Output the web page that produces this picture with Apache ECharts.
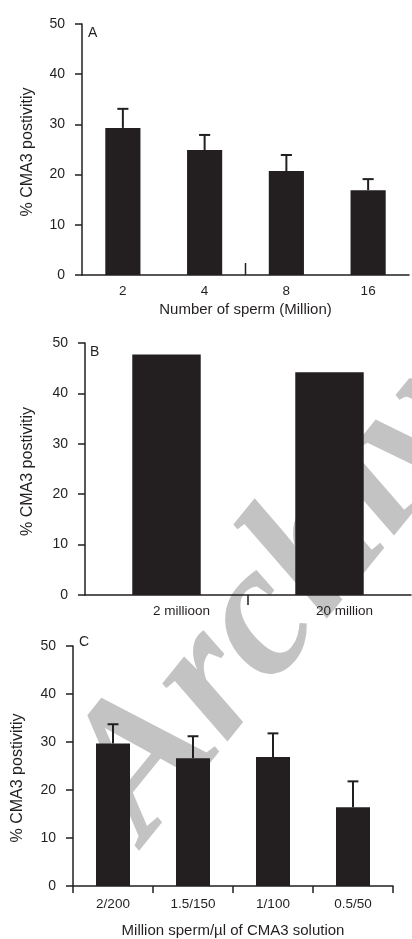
<!DOCTYPE html>
<html>
<head>
<meta charset="utf-8">
<script src="https://cdn.jsdelivr.net/npm/echarts@6/dist/echarts.min.js"></script>
<style>
  html, body { margin: 0; padding: 0; background: #fff; }
  #chart { width: 412px; height: 939px; }
</style>
</head>
<body>
<div id="chart"></div>
<script>
// Panel A: CMA3 positivity by number of sperm
const aCats = ['2', '4', '8', '16'];
const aMeans = [29.3, 24.9, 20.7, 16.9];
const aErrs = [3.8, 3.0, 3.2, 2.2];

// Panel B: two sperm counts
const bCats = ['2 millioon', '20 million'];
const bValues = [47.7, 44.2];

// Panel C: sperm per µl of CMA3 solution
const cCats = ['2/200', '1.5/150', '1/100', '0.5/50'];
const cMeans = [29.7, 26.6, 26.9, 16.4];
const cErrs = [4.0, 4.6, 4.9, 5.4];

// Shared y scale
const yMin = 0, yMax = 50, yStep = 10;

// Single divider tick between two middle categories (index of the category left of it)
const aDividerAfter = 1;
const bDividerAfter = 0;

const INK = '#231f20';
const FONT = '"Liberation Sans", Arial, sans-serif';

const chart = echarts.init(document.getElementById('chart'), null, { renderer: 'canvas' });

function yAxis(gridIndex, gap, pad) {
  return {
    type: 'value', gridIndex, min: yMin, max: yMax, interval: yStep,
    name: '% CMA3 postivitiy', nameLocation: 'middle', nameGap: gap,
    nameTextStyle: { color: INK, fontSize: 16, fontFamily: FONT, padding: pad || 0 },
    axisLine: { show: true, lineStyle: { color: INK, width: 1.5 } },
    axisTick: { show: true, length: 7, lineStyle: { color: INK, width: 1.5 } },
    axisLabel: { color: INK, fontSize: 14, fontFamily: FONT, margin: 17 },
    splitLine: { show: false }
  };
}

function xAxis(gridIndex, cats, tick, label, name, nameGap) {
  return {
    type: 'category', gridIndex, data: cats, boundaryGap: true,
    name: name || '', nameLocation: 'middle', nameGap: nameGap || 30,
    nameTextStyle: { color: INK, fontSize: 15, fontFamily: FONT },
    axisLine: { show: true, lineStyle: { color: INK, width: 1.5 } },
    axisTick: Object.assign({ lineStyle: { color: INK, width: 1.5 } }, tick),
    axisLabel: Object.assign({ color: INK, fontSize: 13.5, fontFamily: FONT, interval: 0 }, label),
    splitLine: { show: false }
  };
}

// Upper error whisker with a short cap
function errorBars(xi, yi, means, errs) {
  return {
    type: 'custom', xAxisIndex: xi, yAxisIndex: yi, z: 3,
    data: means.map((m, i) => [i, m, errs[i]]),
    encode: { x: 0, y: 1 },
    renderItem(params, api) {
      const i = api.value(0), m = api.value(1), e = api.value(2);
      const p0 = api.coord([i, m]);
      const p1 = api.coord([i, m + e]);
      const half = api.size([1, 0])[0] * 0.068;
      const st = { stroke: INK, lineWidth: 2 };
      return {
        type: 'group',
        children: [
          { type: 'line', shape: { x1: p0[0], y1: p0[1], x2: p1[0], y2: p1[1] }, style: st },
          { type: 'line', shape: { x1: p1[0] - half, y1: p1[1], x2: p1[0] + half, y2: p1[1] }, style: st }
        ]
      };
    }
  };
}

// A lone tick on the category boundary after the given index; len > 0 points up
function dividerTick(xi, yi, afterIndex, len) {
  return {
    type: 'custom', xAxisIndex: xi, yAxisIndex: yi, z: 3, silent: true,
    data: [[afterIndex, yMin]],
    encode: { x: 0, y: 1 },
    renderItem(params, api) {
      const i = api.value(0);
      const a = api.coord([i, yMin]);
      const b = api.coord([i + 1, yMin]);
      const x = (a[0] + b[0]) / 2;
      return {
        type: 'line',
        shape: { x1: x, y1: a[1], x2: x, y2: a[1] - len },
        style: { stroke: INK, lineWidth: 1.5 }
      };
    }
  };
}

function panelLetter(text, x, y) {
  return { type: 'text', x, y, z: 10, style: { text, fill: INK, font: '14px ' + FONT, verticalAlign: 'middle' } };
}

const option = {
  animation: false,
  backgroundColor: '#ffffff',
  grid: [
    { left: 82, top: 24, width: 327, height: 251 },
    { left: 85, top: 343, width: 326, height: 252 },
    { left: 73, top: 646, width: 320, height: 240 }
  ],
  xAxis: [
    xAxis(0, aCats, { show: false }, { margin: 9 }, 'Number of sperm (Million)', 27),
    xAxis(1, bCats, { show: false }, { margin: 9, padding: [0, 0, 0, 30] }),
    xAxis(2, cCats, { show: true, inside: false, length: 7, interval: 0 }, { margin: 11 },
      'Million sperm/µl of CMA3 solution', 37)
  ],
  yAxis: [
    yAxis(0, 46, [0, 5, 0, 0]),
    yAxis(1, 49, [0, 5, 0, 0]),
    yAxis(2, 47, [0, 24, 0, 0])
  ],
  graphic: [
    {
      type: 'text', x: 107, y: 812, z: -10, silent: true,
      rotation: 51 * Math.PI / 180,
      style: { text: 'Archives', fill: '#c3c3c3', font: 'italic bold 190px "Liberation Serif", serif', verticalAlign: 'middle' }
    },
    panelLetter('A', 88, 33),
    panelLetter('B', 90, 352),
    panelLetter('C', 79, 642)
  ],
  series: [
    { type: 'bar', xAxisIndex: 0, yAxisIndex: 0, data: aMeans, barWidth: '43%', itemStyle: { color: INK }, z: 2 },
    errorBars(0, 0, aMeans, aErrs),
    dividerTick(0, 0, aDividerAfter, 12),
    { type: 'bar', xAxisIndex: 1, yAxisIndex: 1, data: bValues, barWidth: '42%', itemStyle: { color: INK }, z: 2 },
    dividerTick(1, 1, bDividerAfter, -10),
    { type: 'bar', xAxisIndex: 2, yAxisIndex: 2, data: cMeans, barWidth: '42.5%', itemStyle: { color: INK }, z: 2 },
    errorBars(2, 2, cMeans, cErrs)
  ]
};

chart.setOption(option);
</script>
</body>
</html>
